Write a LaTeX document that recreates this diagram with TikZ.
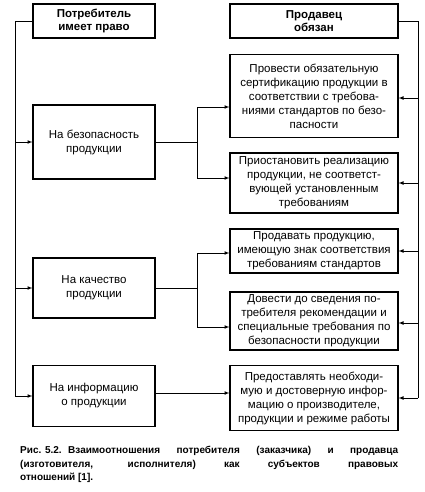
\documentclass[tikz,border=0pt]{standalone}
\usepackage{fontspec}
\setmainfont{Liberation Sans}
\usetikzlibrary{arrows}

\tikzset{
  head/.style={draw, line width=1.2pt, align=center, inner sep=0pt,
    font=\bfseries\fontsize{11.5}{13}\selectfont},
  claim/.style={draw, line width=1.2pt, align=center, inner sep=0pt,
    minimum width=122pt, font=\fontsize{11.5}{14}\selectfont},
  duty/.style={draw, line width=1.2pt, align=center, inner sep=0pt,
    minimum width=168pt, font=\fontsize{11.5}{14}\selectfont},
  wire/.style={line width=0.7pt},
  link/.style={line width=0.7pt, -latex},
}

\begin{document}
\begin{tikzpicture}[x=1pt,y=-1pt]
  \useasboundingbox (0,0) rectangle (424,492);

  \draw (94,21) node[head, minimum width=122pt, minimum height=34pt] (cons) {Потребитель\\имеет право};
  \draw (314,21) node[head, minimum width=168pt, minimum height=34pt] (sell) {Продавец\\обязан};

      \draw (94,142) node[claim, minimum height=74pt] (safe) {На безопасность\\продукции};
      \draw (94,288) node[claim, minimum height=60pt] (qual) {На качество\\продукции};
      \draw (94,396) node[claim, minimum height=61pt] (info) {На информацию\\о продукции};

  \draw (314,96) node[duty, minimum height=83pt] (cert) {Провести обязательную\\сертификацию продукции в\\соответствии с требова-\\ниями стандартов по безо-\\пасности};
  \draw (314,183) node[duty, minimum height=60pt] (stop) {Приостановить реализацию\\продукции, не соответст-\\вующей установленным\\требованиям};
  \draw (314,251) node[duty, minimum height=44pt] (sign) {Продавать продукцию,\\имеющую знак соответствия\\требованиям стандартов};
  \draw (314,321) node[duty, minimum height=58pt] (warn) {Довести до сведения по-\\требителя рекомендации и\\специальные требования по\\безопасности продукции};
  \draw (314,398) node[duty, minimum height=65pt] (tell) {Предоставлять необходи-\\мую и достоверную инфор-\\мацию о производителе,\\продукции и режиме работы};

  % bus lines
  \coordinate (lbus) at (15,396);
  \coordinate (rbus) at (418,398);
  \coordinate (jsafe) at (197,142);
  \coordinate (jqual) at (197,288);

  \draw[wire] (cons.west) -| (lbus);
  \draw[link] (lbus) -- (info.west);
  \draw[link] (safe.west -| lbus) -- (safe.west);
  \draw[link] (qual.west -| lbus) -- (qual.west);

  \draw[wire] (sell.east) -| (rbus);
  \draw[link] (rbus) -- (tell.east);
  \draw[link] ([yshift=-2pt]cert.east -| rbus) -- ([yshift=-2pt]cert.east);
  \draw[link] (stop.east -| rbus) -- (stop.east);
  \draw[link] (sign.east -| rbus) -- (sign.east);
  \draw[link] ([yshift=-2pt]warn.east -| rbus) -- ([yshift=-2pt]warn.east);

  % branches
  \draw[wire] (safe.east) -- (jsafe);
  \draw[link] (jsafe) |- ([yshift=-11pt]cert.west);
  \draw[link] (jsafe) |- ([yshift=5pt]stop.west);
  \draw[wire] (qual.east) -- (jqual);
  \draw[link] (jqual) |- ([yshift=-2pt]sign.west);
  \draw[link] (jqual) |- ([yshift=-6pt]warn.west);
  \draw[link] ([yshift=3pt]info.east) -- ([yshift=3pt]info.east -| tell.west);

  \draw (20,446) node[anchor=north west, text width=378pt, align=justify, inner sep=0pt,
    font=\bfseries\fontsize{10}{13.5}\selectfont] (caption)
    {\hangindent=48pt\hangafter=1\makebox[48pt][l]{Рис. 5.2.}Взаимоотношения потребителя (заказчика) и~продавца\linebreak
     (изготовителя, исполнителя) как субъектов правовых\linebreak отношений~[1].};
\end{tikzpicture}
\end{document}
